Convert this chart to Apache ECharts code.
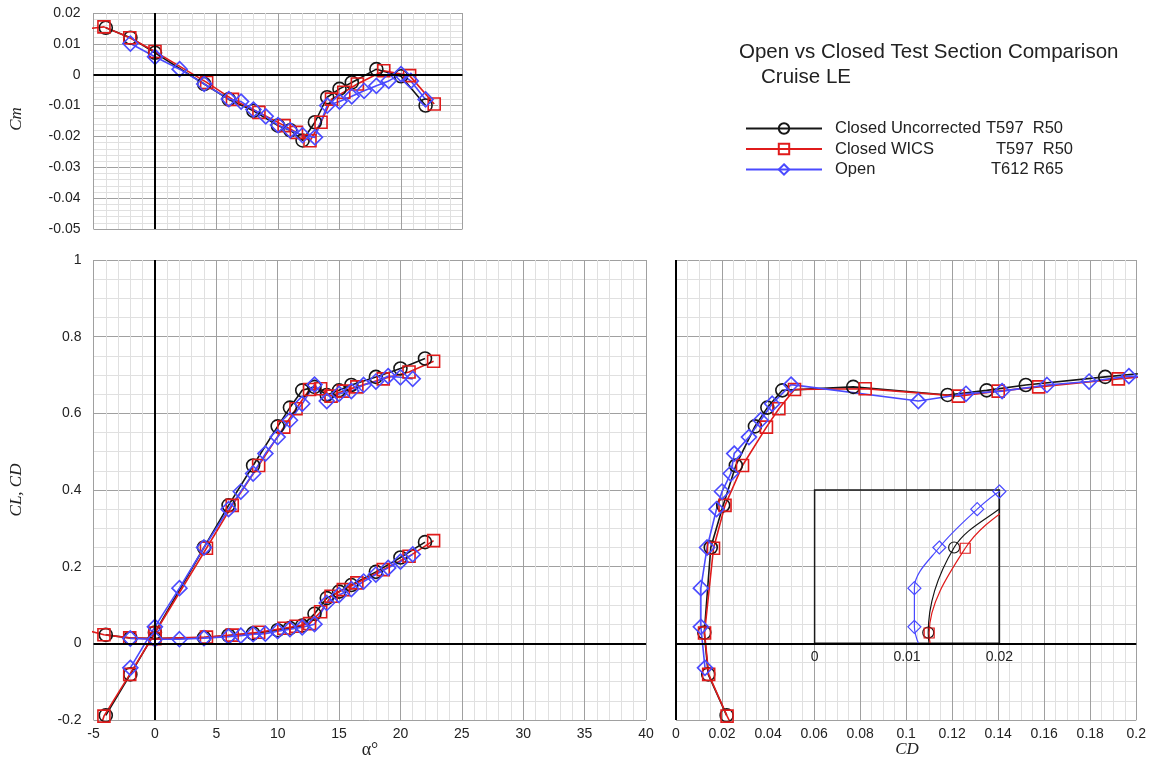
<!DOCTYPE html>
<html>
<head>
<meta charset="utf-8">
<script src="https://cdn.jsdelivr.net/npm/echarts@6/dist/echarts.min.js"></script>
<style>
  html, body { margin: 0; padding: 0; background: #ffffff; }
  #chart { width: 1149px; height: 758px; }
</style>
</head>
<body>
<div id="chart"></div>
<script>
// Closed test section, uncorrected (T597 R50)
const alphaClosed = [-4, -2, 0, 4, 6, 8, 10, 11, 12, 13, 14, 15, 16, 18, 20, 22];
const clClosed = [-0.188, -0.081, 0.028, 0.25, 0.36, 0.464, 0.566, 0.615, 0.66, 0.669, 0.648, 0.66, 0.674, 0.695, 0.717, 0.743];
const cdClosed = [0.022, 0.014, 0.0123, 0.0151, 0.0205, 0.026, 0.0343, 0.0397, 0.0462, 0.077, 0.118, 0.135, 0.152, 0.1865, 0.224, 0.264];
const cmClosed = [0.0152, 0.012, 0.0071, -0.003, -0.008, -0.0117, -0.0165, -0.018, -0.0213, -0.0154, -0.0073, -0.0046, -0.0025, 0.0018, -0.0005, -0.010];

// Closed test section, WICS corrected (T597 R50)
const alphaWics = [-6.2, -4.15, -2.05, 0.0, 4.2, 6.3, 8.45, 10.5, 11.5, 12.6, 13.5, 14.35, 15.35, 16.45, 18.6, 20.7, 22.7];
const clWics = [-0.40, -0.19, -0.081, 0.027, 0.248, 0.36, 0.464, 0.564, 0.612, 0.662, 0.664, 0.645, 0.658, 0.669, 0.69, 0.708, 0.736];
const cdWics = [0.04, 0.0222, 0.0142, 0.0124, 0.0163, 0.0213, 0.0289, 0.0393, 0.0447, 0.0515, 0.0822, 0.1227, 0.140, 0.1576, 0.1922, 0.227, 0.268];
const cmWics = [0.0146, 0.0155, 0.012, 0.0075, -0.0025, -0.008, -0.0122, -0.0165, -0.0187, -0.0214, -0.0154, -0.0079, -0.0057, -0.003, 0.0013, -0.0003, -0.0095];

// Open test section (T612 R65)
const alphaOpen = [-2, 0, 2, 4, 6, 7, 8, 9, 10, 11, 12, 13, 14, 15, 16, 17, 18, 19, 20, 21];
const clOpen = [-0.064, 0.043, 0.144, 0.25, 0.35, 0.396, 0.443, 0.495, 0.538, 0.582, 0.625, 0.675, 0.632, 0.651, 0.658, 0.674, 0.683, 0.697, 0.694, 0.69];
const cdOpen = [0.0126, 0.0108, 0.0108, 0.0135, 0.0176, 0.0200, 0.0238, 0.0253, 0.0317, 0.0368, 0.0418, 0.0500, 0.1053, 0.126, 0.1417, 0.1612, 0.1795, 0.1968, 0.213, 0.232];
const alphaOpenCm = [-2, 0, 2, 4, 6, 7, 8, 9, 10, 11, 12, 13, 14, 15, 16, 17, 18, 19, 20, 20.8, 22];
const cmOpen = [0.0101, 0.0058, 0.0018, -0.003, -0.0079, -0.0087, -0.0113, -0.0135, -0.0163, -0.018, -0.0196, -0.0203, -0.0100, -0.0087, -0.0070, -0.0052, -0.0036, -0.0020, 0.0002, -0.002, -0.008];

// Axis ranges / tick steps
const alphaTicks = { min: -5, max: 40, step: 5 };
const cmAlphaTicks = { min: -5, max: 25, step: 5 };
const cmTicks = { min: -0.05, max: 0.02, step: 0.01 };
const clTicks = { min: -0.2, max: 1, step: 0.2 };
const cdTicks = { min: 0, max: 0.2, step: 0.02 };
const insetCdTicks = { min: 0, max: 0.02, step: 0.01 };
const insetClRange = { min: 0, max: 0.4 };

const legendNames = ['Closed Uncorrected', 'Closed WICS', 'Open'];
const legendTags = ['T597  R50', 'T597  R50', 'T612 R65'];

const SANS = '"Liberation Sans", Arial, sans-serif';
const SERIF = '"Liberation Serif", "Times New Roman", serif';
const LABEL = '#222222';
const MAJOR = '#a0a0a0';
const MINOR = '#e0e0e0';

const runs = [
  { name: legendNames[0], color: '#161616', symbol: 'circle', size: 13,
    alpha: alphaClosed, cl: clClosed, cd: cdClosed, alphaCm: alphaClosed, cm: cmClosed },
  { name: legendNames[1], color: '#e01b1b', symbol: 'rect', size: 12,
    alpha: alphaWics, cl: clWics, cd: cdWics, alphaCm: alphaWics, cm: cmWics },
  { name: legendNames[2], color: '#4a4aff', symbol: 'diamond', size: 15,
    alpha: alphaOpen, cl: clOpen, cd: cdOpen, alphaCm: alphaOpenCm, cm: cmOpen }
];

function pairs(xs, ys) { return xs.map((x, i) => [x, ys[i]]); }

function lineSeries(run, axis, xs, ys, opts) {
  opts = opts || {};
  return {
    type: 'line', name: run.name,
    xAxisIndex: axis, yAxisIndex: axis,
    data: pairs(xs, ys),
    symbol: run.symbol,
    symbolSize: opts.size || run.size,
    showSymbol: true,
    smooth: opts.smooth || false,
    clip: true,
    lineStyle: { color: run.color, width: opts.width || 1.6 },
    itemStyle: { color: 'rgba(255,255,255,0)', borderColor: run.color, borderWidth: opts.width || 1.6 },
    emphasis: { disabled: true },
    animation: false,
    markLine: opts.zero ? {
      silent: true, symbol: ['none', 'none'], label: { show: false },
      lineStyle: { color: '#000000', width: 2, type: 'solid' },
      data: [{ xAxis: 0 }, { yAxis: 0 }], animation: false
    } : undefined
  };
}

// Geometry of the three panels (pixels)
const cmGrid = { left: 93.5, top: 13, width: 369, height: 216 };
const aeroGrid = { left: 93.5, top: 260, width: 552.5, height: 460 };
const polarGrid = { left: 676, top: 260, width: 462, height: 460 };
// Inset box spans CD 0.06..0.14, CL 0..0.4 of the polar panel
const insetGrid = {
  left: polarGrid.left + polarGrid.width * (0.06 - cdTicks.min) / (cdTicks.max - cdTicks.min),
  width: polarGrid.width * 0.08 / (cdTicks.max - cdTicks.min),
  top: polarGrid.top + polarGrid.height * (clTicks.max - 0.4) / (clTicks.max - clTicks.min),
  height: polarGrid.height * 0.4 / (clTicks.max - clTicks.min)
};

function valueAxis(gridIndex, t, minorSplit, showLabels, margin) {
  return {
    type: 'value', gridIndex: gridIndex,
    min: t.min, max: t.max, interval: t.step,
    axisLine: { show: false, onZero: false },
    axisTick: { show: false },
    axisLabel: { show: showLabels, color: LABEL, fontSize: 14, fontFamily: SANS, margin: margin || 8 },
    splitLine: { show: true, lineStyle: { color: MAJOR, width: 1 } },
    minorTick: { show: false, splitNumber: minorSplit },
    minorSplitLine: { show: true, lineStyle: { color: MINOR, width: 1 } }
  };
}

const series = [];
runs.forEach((r, i) => series.push(lineSeries(r, 0, r.alphaCm, r.cm, { zero: i === 0 })));
runs.forEach((r, i) => series.push(lineSeries(r, 1, r.alpha, r.cl, { zero: i === 0 })));
runs.forEach(r => series.push(lineSeries(r, 1, r.alpha, r.cd)));
runs.forEach((r, i) => series.push(lineSeries(r, 2, r.cd, r.cl, { zero: i === 0 })));
runs.forEach(r => series.push(lineSeries(r, 3, r.cd, r.cl, { size: r.size - 2, width: 1.2, smooth: 0.35 })));

const legendRich = {
  g: { width: 8, fontSize: 16.5, fontFamily: SANS, lineHeight: 17 },
  a0: { width: 151, fontSize: 16.5, fontFamily: SANS, color: LABEL, lineHeight: 17 },
  a1: { width: 161, fontSize: 16.5, fontFamily: SANS, color: LABEL, lineHeight: 17 },
  a2: { width: 156, fontSize: 16.5, fontFamily: SANS, color: LABEL, lineHeight: 17 },
  t: { fontSize: 16.5, fontFamily: SANS, color: LABEL, lineHeight: 17 }
};

const option = {
  animation: false,
  backgroundColor: '#ffffff',
  textStyle: { fontFamily: SANS },
  title: [
    { text: 'Open vs Closed Test Section Comparison', left: 739, top: 42, padding: 0,
      textStyle: { fontSize: 20.5, fontWeight: 'normal', fontFamily: SANS, color: LABEL } },
    { text: 'Cruise LE', left: 761, top: 67, padding: 0,
      textStyle: { fontSize: 20.5, fontWeight: 'normal', fontFamily: SANS, color: LABEL } }
  ],
  legend: {
    data: legendNames,
    orient: 'vertical',
    left: 745, top: 120,
    itemWidth: 76, itemHeight: 13, itemGap: 3.5,
    padding: 0,
    selectedMode: false,
    formatter: function (name) {
      const i = legendNames.indexOf(name);
      return '{g| }{a' + i + '|' + name + '}{t|' + legendTags[i] + '}';
    },
    textStyle: { fontSize: 16.5, fontFamily: SANS, color: LABEL, rich: legendRich }
  },
  grid: [
    Object.assign({ containLabel: false }, cmGrid),
    Object.assign({ containLabel: false }, aeroGrid),
    Object.assign({ containLabel: false }, polarGrid),
    Object.assign({ containLabel: false, show: true, borderColor: '#1a1a1a', borderWidth: 1.5,
      backgroundColor: 'rgba(0,0,0,0)', z: 3 }, insetGrid)
  ],
  xAxis: [
    valueAxis(0, cmAlphaTicks, 5, false),
    valueAxis(1, alphaTicks, 5, true, 7),
    valueAxis(2, cdTicks, 4, true, 7),
    {
      type: 'value', gridIndex: 3,
      min: insetCdTicks.min, max: insetCdTicks.max, interval: insetCdTicks.step,
      axisLine: { show: false, onZero: false }, axisTick: { show: false },
      axisLabel: { show: true, color: LABEL, fontSize: 14, fontFamily: SANS, margin: 7 },
      splitLine: { show: false }
    }
  ],
  yAxis: [
    valueAxis(0, cmTicks, 5, true, 13),
    valueAxis(1, clTicks, 4, true, 12),
    valueAxis(2, clTicks, 4, false),
    {
      type: 'value', gridIndex: 3, min: insetClRange.min, max: insetClRange.max,
      show: false, splitLine: { show: false }
    }
  ],
  graphic: [
    { type: 'text', x: 17, y: 119, rotation: Math.PI / 2,
      style: { text: 'Cm', font: 'italic 17px ' + SERIF, fill: LABEL, align: 'center', verticalAlign: 'middle' } },
    { type: 'text', x: 17, y: 490, rotation: Math.PI / 2,
      style: { text: 'CL, CD', font: 'italic 17px ' + SERIF, fill: LABEL, align: 'center', verticalAlign: 'middle' } },
    { type: 'text', x: 370, y: 750,
      style: { text: 'α°', font: '18px ' + SERIF, fill: LABEL, align: 'center', verticalAlign: 'middle' } },
    { type: 'text', x: 907, y: 750,
      style: { text: 'CD', font: 'italic 17px ' + SERIF, fill: LABEL, align: 'center', verticalAlign: 'middle' } }
  ],
  series: series
};

const chart = echarts.init(document.getElementById('chart'), null, { renderer: 'canvas' });
chart.setOption(option);
</script>
</body>
</html>
